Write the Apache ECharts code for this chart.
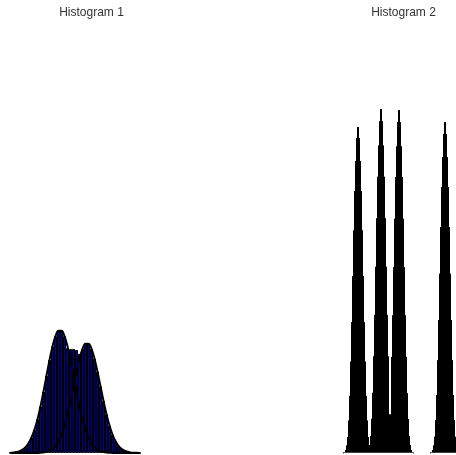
<!DOCTYPE html>
<html>
<head>
<meta charset="utf-8">
<script src="https://cdn.jsdelivr.net/npm/echarts@6/dist/echarts.min.js"></script>
<style>html,body{margin:0;padding:0;background:#fff}#c{width:456px;height:455px}</style>
</head>
<body>
<div id="c"></div>
<script>
// Histogram 1: 44 bins
const bins1 = Array.from({length: 44}, (_, i) => 'b' + i);
const hist1 = [0.06,0.11,0.23,0.44,0.79,1.36,2.26,3.58,5.40,7.81,10.76,14.18,17.85,21.45,24.62,26.97,28.24,28.24,26.97,
  24.2,24.0,24.0,23.8,22.9,24.04,25.24,25.24,24.04,21.78,18.78,15.40,12.03,8.96,6.33,4.27,2.73,1.66,0.97,0.53,0.28,0.14,0.07,0.03,0.01];
const densA = [0.06,0.11,0.23,0.44,0.79,1.36,2.26,3.58,5.40,7.81,10.76,14.18,17.85,21.45,24.62,26.97,28.24,28.24,26.97,
  24.62,21.45,17.85,14.18,10.76,7.81,5.40,3.58,2.26,1.36,0.79,0.44,0.23,0.11,0.06,0,0,0,0,0,0,0,0,0,0];
const densB = [0,0,0,0,0,0,0,0,0,0,0.07,0.14,0.28,0.53,0.97,1.66,2.73,4.27,6.33,8.96,12.03,15.40,18.78,21.78,24.04,25.24,
  25.24,24.04,21.78,18.78,15.40,12.03,8.96,6.33,4.27,2.73,1.66,0.97,0.53,0.28,0.14,0.07,0.03,0.01];

// Histogram 2: 116 bins
const bins2 = Array.from({length: 116}, (_, i) => 'c' + i);
const hist2 = [
  0,0,0,0.08,0.30,0.76,1.82,3.79,7.58,13.3,21.2,30.3,40.9,51.5,60.6,67.5,72.8,75.4,
  75.4,72.8,67.5,60.6,51.5,40.9,30.3,21.2,13.3,7.58,3.79,1.92,4.00,7.99,14.0,22.4,32.0,43.1,54.3,63.9,71.1,76.7,79.5,
  79.5,76.7,71.1,63.9,54.3,43.1,32.0,22.4,9.0,9.0,22.3,31.9,43.0,54.2,63.8,70.9,76.5,79.3,
  79.3,76.5,70.9,63.8,54.2,43.0,31.9,22.3,13.9,7.97,3.99,1.91,0.80,0.32,0.08,
  0,0,0,0,0,0,0,0,0,0,0,0,0,0,0,0,
  0.08,0.31,0.77,1.85,3.85,7.69,13.5,21.5,30.8,41.5,52.3,61.5,68.4,73.8,76.5,
  76.5,73.8,68.4,61.5,52.3,41.5,30.8,21.5,13.5,7.69,3.85];

const titles = ['Histogram 1', 'Histogram 2'];

const chart = echarts.init(document.getElementById('c'), null, {renderer: 'canvas'});
chart.setOption({
  animation: false,
  backgroundColor: '#fff',
  title: [
    {text: titles[0], left: 91.5, top: 7, textAlign: 'center', padding: 0,
     textStyle: {fontSize: 12, fontWeight: 'normal', color: '#333', fontFamily: 'Liberation Sans, Arial, sans-serif'}},
    {text: titles[1], left: 403.5, top: 7, textAlign: 'center', padding: 0,
     textStyle: {fontSize: 12, fontWeight: 'normal', color: '#333', fontFamily: 'Liberation Sans, Arial, sans-serif'}}
  ],
  grid: [
    {left: 9, width: 132, top: 20, bottom: 2},
    {left: 340, width: 116, top: 20, bottom: 2}
  ],
  xAxis: [
    {type: 'category', data: bins1, gridIndex: 0, boundaryGap: true, show: false},
    {type: 'category', data: bins2, gridIndex: 1, boundaryGap: true, show: false}
  ],
  yAxis: [
    {type: 'value', gridIndex: 0, min: 0, max: 100, show: false},
    {type: 'value', gridIndex: 1, min: 0, max: 100, show: false}
  ],
  series: [
    {type: 'bar', xAxisIndex: 0, yAxisIndex: 0, data: hist1, barWidth: '100%', barGap: '-100%',
     itemStyle: {color: '#0000a0', borderColor: '#000', borderWidth: 1}, z: 2},
    {type: 'line', xAxisIndex: 0, yAxisIndex: 0, data: densA, smooth: 0.4, symbol: 'none',
     lineStyle: {color: '#000', width: 2}, z: 3},
    {type: 'line', xAxisIndex: 0, yAxisIndex: 0, data: densB, smooth: 0.4, symbol: 'none',
     lineStyle: {color: '#000', width: 2}, z: 3},
    {type: 'bar', xAxisIndex: 1, yAxisIndex: 1, data: hist2.map(v => v > 0 ? v : null), barWidth: '100%',
     itemStyle: {color: '#000', borderColor: '#000', borderWidth: 1}, z: 2}
  ]
});
</script>
</body>
</html>
